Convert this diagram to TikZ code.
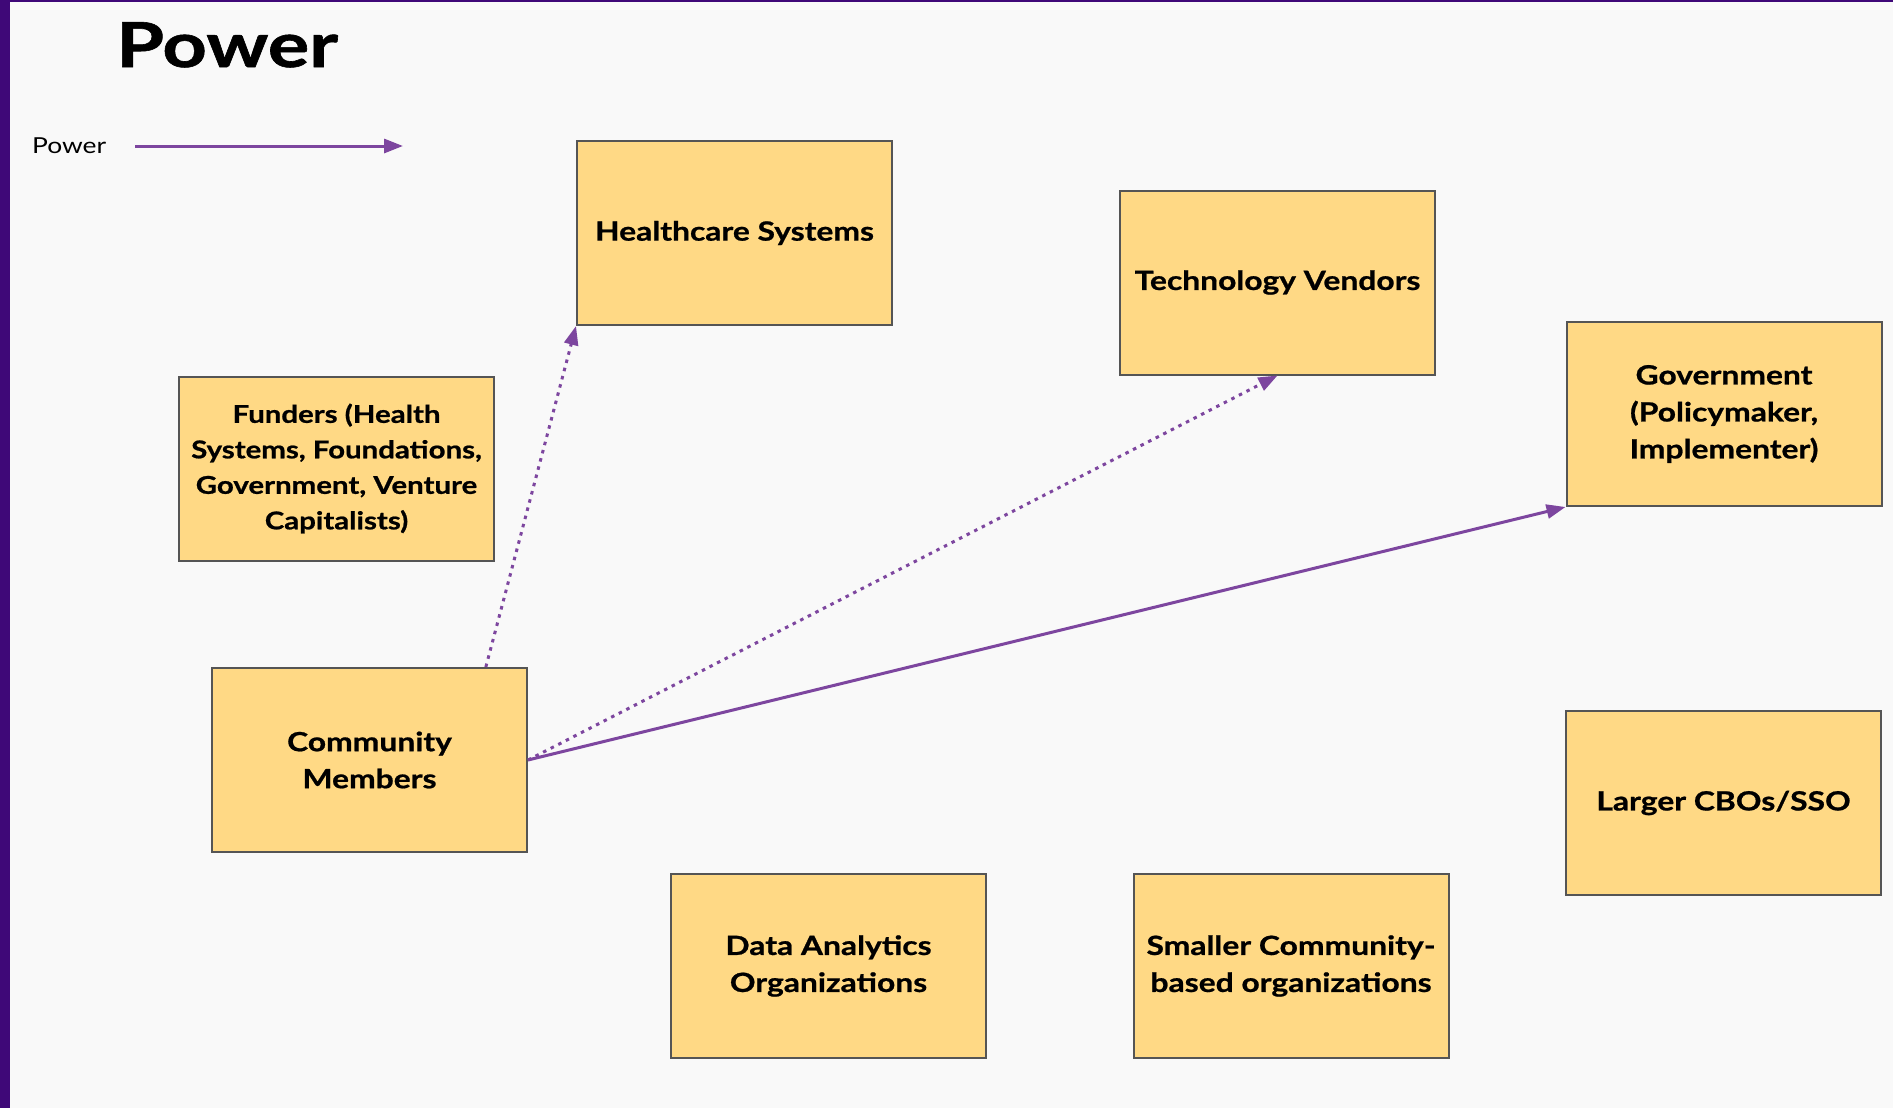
\documentclass[tikz,border=0pt]{standalone}
\usepackage{fontspec}
\setmainfont{Lato}[FakeStretch=1.2, BoldFeatures={FakeBold=0.8}]
\newfontfamily\titlefont{Lato}[FakeStretch=1.25, BoldFeatures={FakeBold=1}]
\usetikzlibrary{arrows.meta,calc}

\definecolor{pagebg}{HTML}{F9F9F9}
\definecolor{framepurple}{HTML}{3F0878}
\definecolor{boxfill}{HTML}{FFD985}
\definecolor{boxline}{HTML}{555555}
\definecolor{powerline}{HTML}{7D469F}

\tikzset{
  actor/.style={draw=boxline, line width=2pt, fill=boxfill, rectangle,
    minimum width=315pt, minimum height=184pt, inner sep=2pt,
    align=center, font=\fontsize{26.5}{37}\selectfont\bfseries},
  smalltext/.style={font=\fontsize{24.5}{35.5}\selectfont\bfseries},
  powerarrow/.style={draw=powerline, line width=3pt,
    -{Triangle[length=19pt,width=14pt]}},
  dottedarrow/.style={powerarrow, dash pattern=on 3.5pt off 5pt},
}

\begin{document}
\begin{tikzpicture}[x=1pt,y=-1pt]
  % page background and frame
  \fill[pagebg] (0,0) rectangle (1893,1108);
  \fill[framepurple] (0,0) rectangle (10,1108);
  \fill[framepurple] (0,0) rectangle (1893,2);
  \useasboundingbox (0,0) rectangle (1893,1108);

  % title
  \node[anchor=base west, inner sep=0pt, font=\titlefont\fontsize{62}{62}\selectfont\bfseries]
    (title) at (116,67) {Power};

  % legend
  \node[anchor=west, inner sep=0pt, font=\fontsize{22}{24}\selectfont]
    (legend) at (32,146) {Power};
  \coordinate (legstart) at (135,146);
  \coordinate (legend-end) at (403,146);
  \draw[powerarrow] (legstart) -- (legend-end);

  % actors
  \node[actor] (hs)   at (734.5,233)   {Healthcare Systems};
  \node[actor] (tv)   at (1277.5,282.5){Technology Vendors};
  \node[actor] (gov)  at (1724,414)    {Government\\(Policymaker,\\Implementer)};
  \node[actor,smalltext] (fund) at (336.5,468.5) {Funders (Health\\Systems, Foundations,\\Government, Venture\\Capitalists)};
  \node[actor] (cm)   at (369.5,760)   {Community\\Members};
  \node[actor] (cbo)  at (1723.5,803)  {Larger CBOs/SSO};
  \node[actor] (da)   at (828.5,966)   {Data Analytics\\Organizations};
  \node[actor] (sc)   at (1291,966)    {Smaller Community-\\based organizations};

  % power relations
  \draw[dottedarrow] ($(cm.north west)!0.867!(cm.north east)$) -- (hs.south west);
  \draw[dottedarrow] (cm.east) -- (tv.south);
  \draw[powerarrow] (cm.east) -- (gov.south west);
\end{tikzpicture}
\end{document}
